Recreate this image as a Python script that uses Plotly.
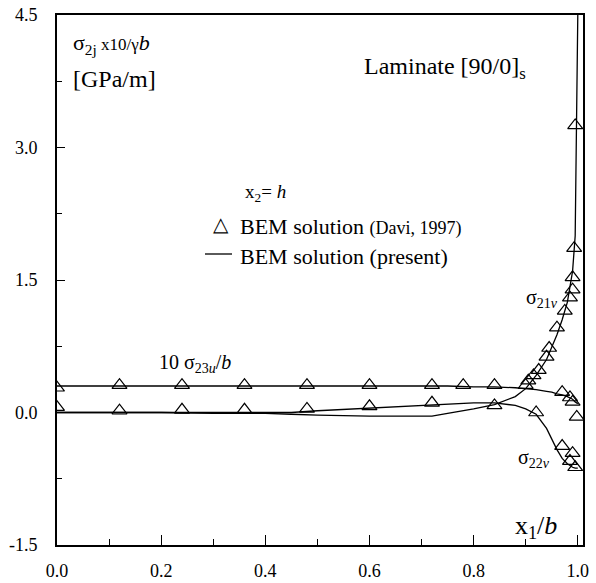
import plotly.graph_objects as go

# BEM solution (present) - lines
x_line = [0.0, 0.1, 0.2, 0.3, 0.4, 0.45, 0.5, 0.6, 0.7, 0.72, 0.75, 0.8, 0.84, 0.88, 0.9, 0.92,
          0.94, 0.95, 0.96, 0.97, 0.98, 0.99, 0.995, 1.0]
s23u_line = [0.30, 0.30, 0.30, 0.30, 0.30, 0.30, 0.30, 0.30, 0.30, 0.30, 0.30, 0.29, 0.29, 0.28, 0.27, 0.26,
             0.24, 0.23, 0.21, 0.20, 0.18, 0.15, 0.12, 0.10]
s21v_line = [0.0, 0.0, 0.0, -0.01, -0.01, -0.02, -0.03, -0.04, -0.04, -0.04, -0.01, 0.04, 0.09, 0.18, 0.27, 0.42,
             0.60, 0.74, 0.88, 1.05, 1.25, 1.60, 2.00, 4.50]
s22v_line = [0.0, 0.0, 0.0, 0.0, 0.0, 0.0, 0.02, 0.05, 0.08, 0.09, 0.10, 0.11, 0.11, 0.08, 0.04, -0.02,
             -0.18, -0.30, -0.42, -0.52, -0.58, -0.62, -0.63, -0.63]

# BEM solution (Davi, 1997) - triangles
s23u_x = [0.0, 0.12, 0.24, 0.36, 0.48, 0.60, 0.72, 0.78, 0.84, 0.97, 0.985, 0.99]
s23u_y = [0.28, 0.31, 0.31, 0.31, 0.31, 0.31, 0.31, 0.31, 0.31, 0.23, 0.17, 0.12]
s21v_x = [0.90, 0.905, 0.915, 0.925, 0.94, 0.945, 0.96, 0.975, 0.985, 0.99, 0.99, 0.993, 0.995]
s21v_y = [0.31, 0.36, 0.42, 0.48, 0.63, 0.73, 0.96, 1.15, 1.30, 1.39, 1.53, 1.86, 3.25]
s22v_x = [0.0, 0.12, 0.24, 0.36, 0.48, 0.60, 0.72, 0.84, 0.92, 0.97, 0.985, 0.99, 0.995, 0.998]
s22v_y = [0.06, 0.02, 0.03, 0.03, 0.04, 0.07, 0.11, 0.08, 0.0, -0.38, -0.55, -0.46, -0.62, -0.05]

x_ticks = [0.0, 0.2, 0.4, 0.6, 0.8, 1.0]
x_ticktext = ["0.0", "0.2", "0.4", "0.6", "0.8", "1.0"]
y_ticks = [-1.5, 0.0, 1.5, 3.0, 4.5]
y_ticktext = ["-1.5", "0.0", "1.5", "3.0", "4.5"]

FONT = "Liberation Serif"
fig = go.Figure()
line_style = dict(color="black", width=1.3)
for y in (s23u_line, s21v_line, s22v_line):
    fig.add_trace(go.Scatter(x=x_line, y=y, mode="lines", line=line_style, showlegend=False))
marker_style = dict(symbol="triangle-up-open", size=13, color="black", line=dict(width=1.2, color="black"))
for xs, ys in ((s23u_x, s23u_y), (s21v_x, s21v_y), (s22v_x, s22v_y)):
    fig.add_trace(go.Scatter(x=xs, y=ys, mode="markers", marker=marker_style, showlegend=False))

axis_common = dict(showline=True, linecolor="black", linewidth=1.6, mirror=True, showgrid=False,
                   zeroline=False, ticks="inside", tickcolor="black", tickwidth=1.2, automargin=False,
                   tickfont=dict(family=FONT, size=18, color="black"))
fig.update_xaxes(range=[0, 1.01], tickvals=x_ticks, ticktext=x_ticktext, ticklen=10,
                 minor=dict(dtick=0.1, tick0=0, ticks="inside", ticklen=6, tickcolor="black", tickwidth=1),
                 ticklabelstandoff=9, **axis_common)
fig.update_yaxes(range=[-1.5, 4.5], tickvals=y_ticks, ticktext=y_ticktext, ticklen=8,
                 minor=dict(dtick=0.75, tick0=0, ticks="inside", ticklen=5, tickcolor="black", tickwidth=1),
                 ticklabelstandoff=14, **axis_common)

def ann(x, y, text, size=20, xanchor="left"):
    fig.add_annotation(x=x, y=y, xref="paper", yref="paper", text=text, showarrow=False,
                       xanchor=xanchor, yanchor="middle", font=dict(family=FONT, size=size, color="black"))

# paper coords: plot area x 57..583 (526px), y 15..545 (530px)
def px(xp):
    return (xp - 57) / 526.0
def py(yp):
    return (545 - yp) / 530.0

ann(px(71), py(44), "σ<sub>2j</sub><span style='font-size:17px'> x10/γ</span><i>b</i>", 22)
ann(px(71), py(79), "[GPa/m]", 24)
ann(px(362), py(68), "Laminate [90/0]<sub>s</sub>", 24)
ann(px(243), py(193), "x<sub>2</sub>= <i>h</i>", 19)
ann(px(211), py(224), "△", 20)
ann(px(238), py(226), "BEM solution <span style='font-size:18px'>(Davi, 1997)</span>", 22)
ann(px(238), py(256), "BEM solution (present)", 22)
fig.add_shape(type="line", xref="paper", yref="paper", x0=px(205), x1=px(232), y0=py(254), y1=py(254),
              line=dict(color="black", width=1.3))
ann(px(157), py(363), "10 σ<sub>23<i>u</i></sub>/<i>b</i>", 20)
ann(px(524), py(298), "σ<sub>21<i>v</i></sub>", 20)
ann(px(516), py(458), "σ<sub>22<i>v</i></sub>", 20)
ann(px(513), py(527), "x<sub>1</sub>/<i>b</i>", 26)

fig.update_layout(width=596, height=583, margin=dict(l=57, r=13, t=15, b=38),
                  plot_bgcolor="white", paper_bgcolor="white", showlegend=False)
fig.write_html("out.html")
